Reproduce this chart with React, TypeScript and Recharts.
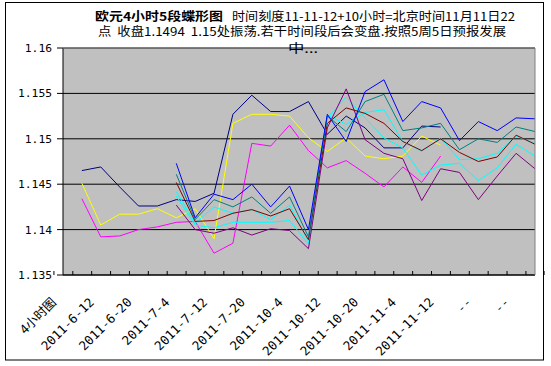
import { CartesianGrid, ComposedChart, Line, XAxis, YAxis } from "recharts";

const categories = [
  "4小时图", "", "2011-6-12", "", "2011-6-20", "", "2011-7-4", "", "2011-7-12", "",
  "2011-7-20", "", "2011-10-4", "", "2011-10-12", "", "2011-10-20", "", "2011-11-4", "",
  "2011-11-12", "", "--", "", "--", "",
];

const _ = null;

const navy = [_, 1.1465, 1.1469, 1.1447, 1.1426, 1.1426, 1.1433, 1.1431, 1.144, 1.1527, 1.1548, 1.153, 1.153, 1.1541, 1.1505, 1.1525, 1.1512, 1.149, 1.149, 1.1514, 1.1513, _, _, _, _, _];
const magenta = [_, 1.1434, 1.1392, 1.1393, 1.14, 1.1403, 1.1408, 1.1409, 1.1374, 1.1385, 1.1495, 1.1492, 1.1515, 1.1487, 1.1468, 1.1476, 1.1462, 1.1447, 1.1469, 1.1452, 1.1481, _, _, _, _, _];
const yellow = [_, 1.1451, 1.1405, 1.1417, 1.1417, 1.1423, 1.1413, 1.1423, 1.139, 1.1517, 1.1527, 1.1527, 1.1525, 1.1501, 1.1486, 1.1501, 1.1481, 1.1478, 1.1481, 1.1503, 1.1493, _, _, _, _, _];
const cyanB = [_, _, _, _, _, _, 1.1437, 1.1405, 1.1402, 1.1408, 1.1408, 1.1408, 1.141, 1.1384, 1.1523, 1.1546, 1.1523, 1.1501, 1.149, 1.146, 1.1471, 1.1473, 1.1454, 1.1468, 1.1494, 1.1481];
const cyanA = [_, _, _, _, _, _, 1.1442, 1.1407, 1.1425, 1.1418, 1.1422, 1.1411, 1.1427, 1.1387, 1.1526, 1.1516, 1.1529, 1.1532, 1.1497, 1.1486, 1.1501, 1.1477, 1.1478, 1.1484, 1.1503, 1.1495];
const purple = [_, _, _, _, _, _, 1.1427, 1.14, 1.1396, 1.1402, 1.1394, 1.1401, 1.1399, 1.1379, 1.1512, 1.1555, 1.1499, 1.1484, 1.1478, 1.1432, 1.1467, 1.1463, 1.1433, 1.1459, 1.1484, 1.1467];
const darkred = [_, _, _, _, _, _, 1.1452, 1.1409, 1.141, 1.1418, 1.1422, 1.1415, 1.1423, 1.1389, 1.1517, 1.1534, 1.1528, 1.1517, 1.1497, 1.1487, 1.15, 1.1485, 1.1475, 1.148, 1.1504, 1.1494];
const teal = [_, _, _, _, _, _, 1.1461, 1.1411, 1.1433, 1.1425, 1.1436, 1.1418, 1.1436, 1.1392, 1.1525, 1.1508, 1.1541, 1.1549, 1.1509, 1.1512, 1.1517, 1.1488, 1.15, 1.1496, 1.1513, 1.1508];
const blue = [_, _, _, _, _, _, 1.1473, 1.1413, 1.1439, 1.1433, 1.145, 1.1425, 1.1448, 1.14, 1.1527, 1.1497, 1.1552, 1.1565, 1.1519, 1.1541, 1.1534, 1.1498, 1.1519, 1.1509, 1.1523, 1.1522];

const yTicks = [1.135, 1.14, 1.145, 1.15, 1.155, 1.16];

const series = [
  { key: "navy", values: navy, color: "#000080" },
  { key: "magenta", values: magenta, color: "#FF00FF" },
  { key: "yellow", values: yellow, color: "#FFFF00" },
  { key: "cyanB", values: cyanB, color: "#00FFFF" },
  { key: "cyanA", values: cyanA, color: "#00FFFF" },
  { key: "purple", values: purple, color: "#800080" },
  { key: "darkred", values: darkred, color: "#800000" },
  { key: "teal", values: teal, color: "#008080" },
  { key: "blue", values: blue, color: "#0000FF" },
];

const data = categories.map((_c, i) => {
  const row: Record<string, number | null> = { idx: i };
  series.forEach((s) => (row[s.key] = s.values[i]));
  return row;
});

const W = 551;
const H = 366;
const PLOT_L = 63;
const PLOT_R = 535;
const PLOT_T = 48;
const PLOT_B = 275;
const BAND = (PLOT_R - PLOT_L) / categories.length;
const MONO = "'DejaVu Sans Mono', 'Noto Sans CJK SC', monospace";
const CJK = "'Noto Sans CJK SC', sans-serif";

function XTick(props: any) {
  const { x, y, payload } = props;
  const i = payload.value as number;
  const label = categories[i];
  const half = BAND / 2;
  const ax = x - 6;
  const ay = y + 28;
  return (
    <g>
      <line x1={x - half} y1={y} x2={x - half} y2={y - 4} stroke="#000" />
      {i === categories.length - 1 && <line x1={x + half} y1={y} x2={x + half} y2={y - 4} stroke="#000" />}
      {label && (
        <text
          x={ax}
          y={ay}
          transform={`rotate(-45 ${ax} ${ay})`}
          textAnchor="end"
          fontFamily={MONO}
          fontSize={12.6}
          fill="#000"
        >
          {label}
        </text>
      )}
    </g>
  );
}

export default function App() {
  return (
    <div style={{ position: "absolute", left: 0, top: 0, width: W, height: H, background: "#fff" }}>
      <ComposedChart
        width={W}
        height={H}
        data={data}
        margin={{ top: PLOT_T, right: W - PLOT_R, bottom: H - PLOT_B - 60, left: 5 }}
      >
        <CartesianGrid vertical={false} stroke="#000" fill="#C0C0C0" />
        <XAxis
          dataKey="idx"
          type="category"
          interval={0}
          height={60}
          tickSize={0}
          tickMargin={0}
          tickLine={false}
          axisLine={{ stroke: "#000" }}
          tick={<XTick />}
        />
        <YAxis
          type="number"
          domain={[1.135, 1.16]}
          ticks={yTicks}
          width={PLOT_L - 5}
          tickSize={6}
          tickMargin={5}
          axisLine={{ stroke: "#000" }}
          tickLine={{ stroke: "#000" }}
          tick={{ fontFamily: MONO, fontSize: 11.3, fill: "#000" }}
          tickFormatter={(v: number) => String(v)}
          allowDataOverflow
        />
        {series.map((s) => (
          <Line
            key={s.key}
            dataKey={s.key}
            type="linear"
            stroke={s.color}
            strokeWidth={1}
            dot={false}
            activeDot={false}
            isAnimationActive={false}
          />
        ))}
      </ComposedChart>
      <svg
        width={W}
        height={H}
        style={{ position: "absolute", left: 0, top: 0, pointerEvents: "none" }}
      >
        <rect x={5.5} y={2.5} width={538} height={357.5} fill="none" stroke="#000" />
        <line x1={PLOT_L} y1={PLOT_T} x2={PLOT_R} y2={PLOT_T} stroke="#808080" />
        <line x1={PLOT_R} y1={PLOT_T} x2={PLOT_R} y2={PLOT_B} stroke="#808080" />
        <g fontFamily={CJK} fontSize={12} fill="#000">
          <text x={95} y={15} dominantBaseline="central" fontWeight="bold" textLength={128} lengthAdjust="spacingAndGlyphs">
            欧元4小时5段蝶形图
          </text>
          <text x={232} y={15} dominantBaseline="central" textLength={283} lengthAdjust="spacingAndGlyphs">
            时间刻度11-11-12+10小时=北京时间11月11日22
          </text>
          <text x={98} y={30.5} dominantBaseline="central" textLength={408} lengthAdjust="spacingAndGlyphs">
            {"点\u00A0\u00A0收盘1.1494\u00A0\u00A01.15处振荡.若干时间段后会变盘.按照5周5日预报发展"}
          </text>
          <text x={288} y={47} dominantBaseline="central" textLength={30} lengthAdjust="spacingAndGlyphs">
            中...
          </text>
        </g>
      </svg>
    </div>
  );
}
